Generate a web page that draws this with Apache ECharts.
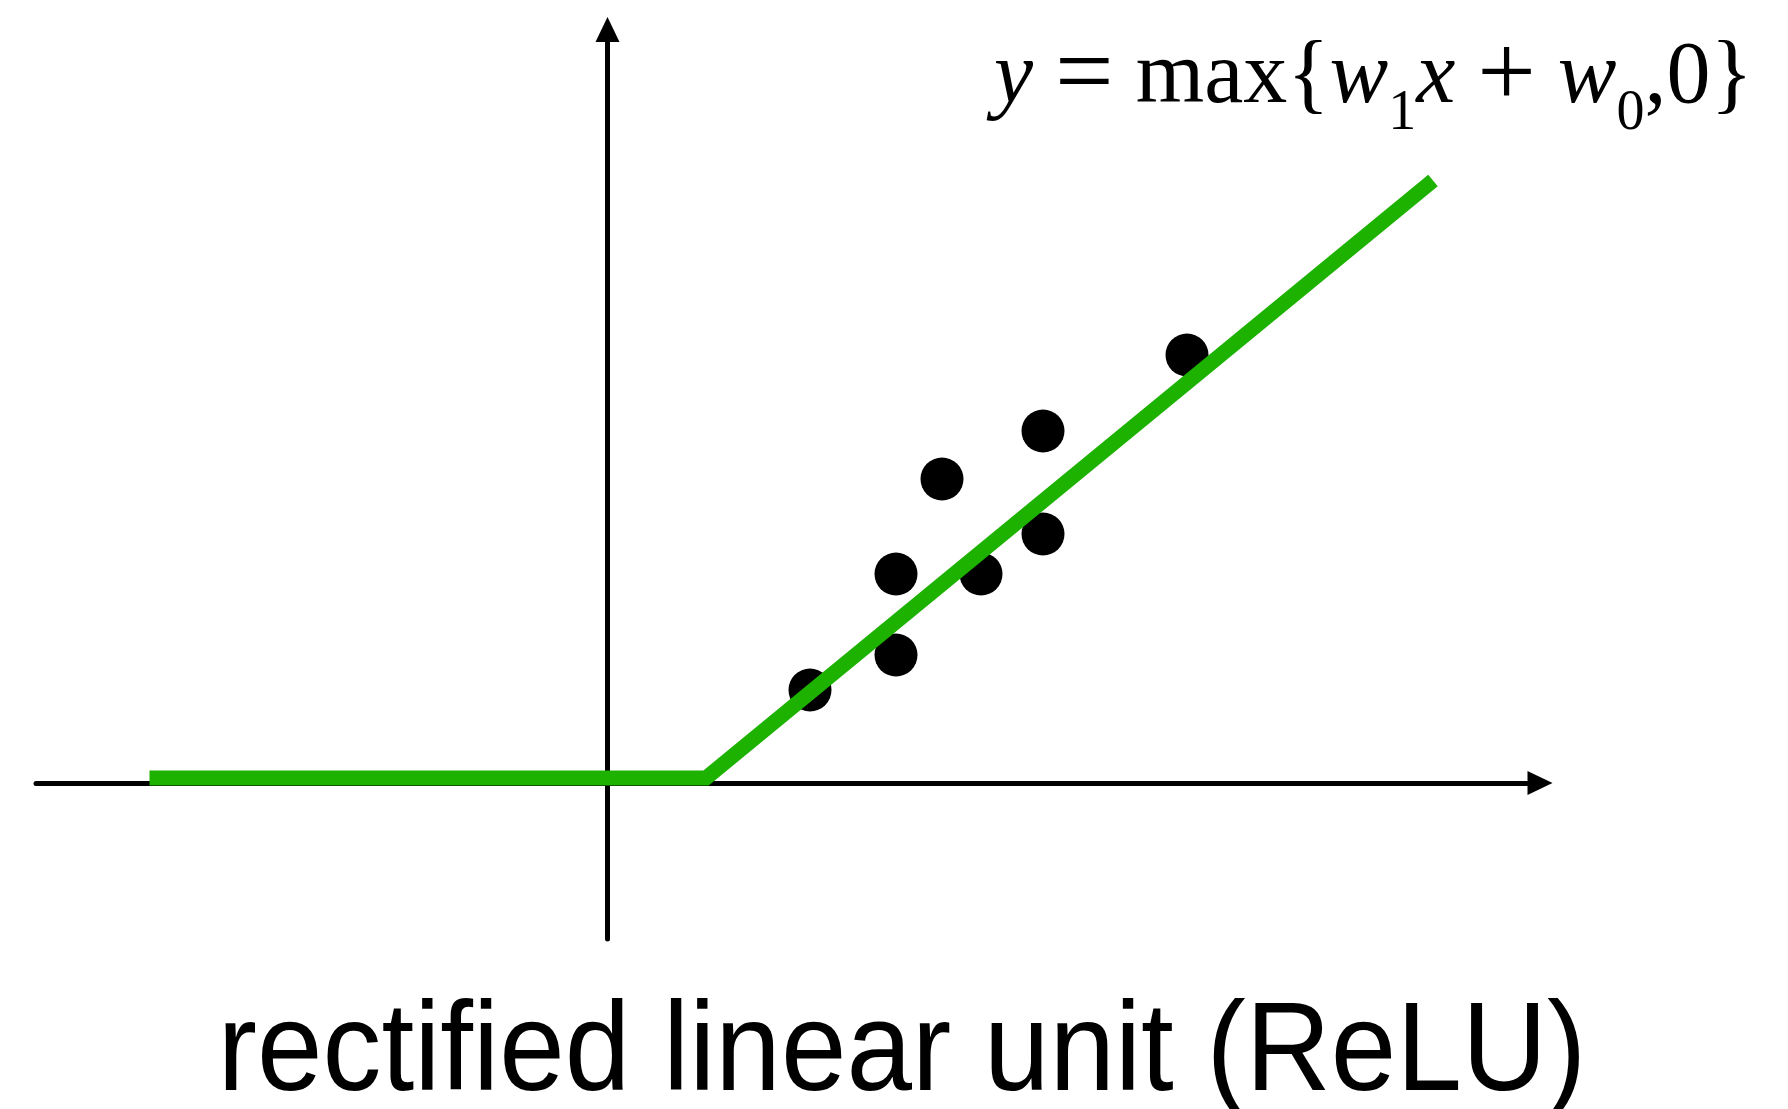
<!DOCTYPE html>
<html>
<head>
<meta charset="utf-8">
<title>ReLU</title>
<script src="https://cdn.jsdelivr.net/npm/echarts@6/dist/echarts.min.js"></script>
<style>
  html, body { margin: 0; padding: 0; background: #fff; }
  #container { width: 1788px; height: 1109px; }
</style>
</head>
<body>
<div id="container"></div>
<script>
// green ReLU fit (kink then straight rise)
var reluX = [-4.58, 0.985, 8.255];
var reluY = [0.05, 0.05, 6.025];
// black sample points
var pointX = [2.025, 2.885, 2.885, 3.735, 3.345, 4.355, 4.355, 5.795];
var pointY = [0.93, 1.28, 2.09, 2.09, 3.04, 2.49, 3.52, 4.28];
var caption = "rectified linear unit (ReLU)";

var dom = document.getElementById("container");
var myChart = echarts.init(dom);

var reluData = reluX.map(function (x, i) { return [x, reluY[i]]; });
var pointData = pointX.map(function (x, i) { return [x, pointY[i]]; });

var axisCommon = {
  type: "value",
  axisTick: { show: false },
  axisLabel: { show: false },
  splitLine: { show: false },
  axisLine: {
    show: true,
    onZero: true,
    symbol: ["none", "triangle"],
    symbolSize: [24, 25],
    lineStyle: { color: "#000", width: 5 }
  }
};

var serif = "Liberation Serif";

var option = {
  animation: false,
  backgroundColor: "#fff",
  grid: { left: 36, right: 248, top: 29.5, bottom: 170 },
  xAxis: Object.assign({}, axisCommon, { min: -5.715, max: 9.325 }),
  yAxis: Object.assign({}, axisCommon, { min: -1.56, max: 7.535 }),
  series: [
    {
      type: "scatter",
      data: pointData,
      symbol: "circle",
      symbolSize: 43,
      itemStyle: { color: "#000", opacity: 1 },
      z: 3
    },
    {
      type: "line",
      data: reluData,
      showSymbol: false,
      symbol: "none",
      clip: false,
      lineStyle: { color: "#1db100", width: 15, cap: "butt", join: "miter" },
      z: 5
    }
  ],
  graphic: [
    {
      type: "text",
      x: 994,
      y: 79,
      style: {
        text: "{v|y} {o|=} max{{v|w}{s|1}{v|x} {o|+} {v|w}{s|0},0}",
        fontFamily: serif,
        fontSize: 88,
        fill: "#000",
        verticalAlign: "middle",
        rich: {
          v: { fontFamily: serif, fontStyle: "italic", fontSize: 88, fill: "#000" },
          o: { fontFamily: serif, fontSize: 104, fill: "#000" },
          s: { fontFamily: serif, fontSize: 56, lineHeight: 20, padding: [70, 0, 0, 0], fill: "#000" }
        }
      }
    },
    {
      type: "text",
      x: 902,
      y: 1055,
      scaleX: 0.935,
      style: {
        text: caption,
        fontFamily: "Liberation Sans",
        fontSize: 126,
        fill: "#000",
        align: "center",
        verticalAlign: "middle"
      }
    }
  ]
};

myChart.setOption(option, true);
</script>
</body>
</html>
